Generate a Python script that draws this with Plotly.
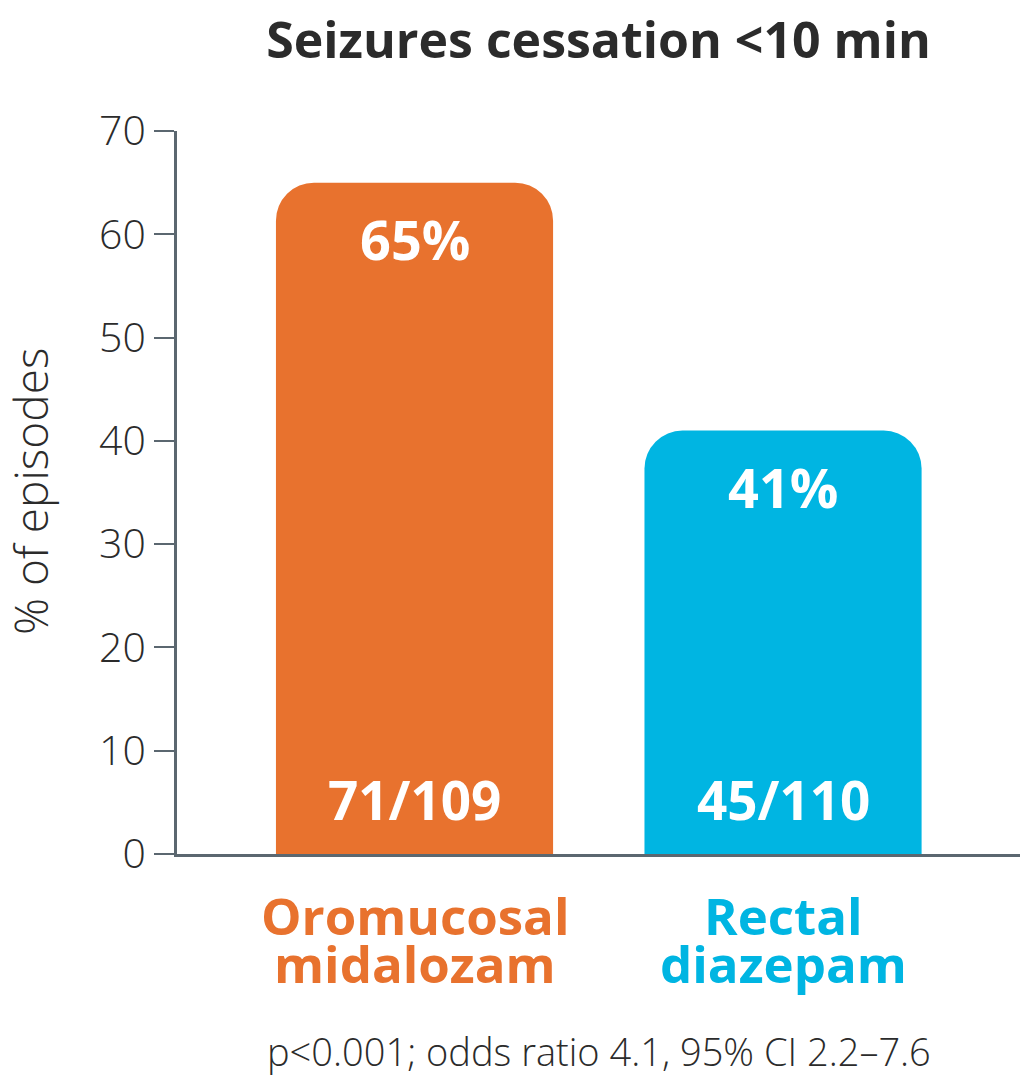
import plotly.graph_objects as go

categories_line1 = ["Oromucosal", "Rectal"]
categories_line2 = ["midalozam", "diazepam"]
values = [65, 41]
value_labels = ["65%", "41%"]
count_labels = ["71/109", "45/110"]
colors = ["#E8722E", "#00B5E2"]
y_ticks = [0, 10, 20, 30, 40, 50, 60, 70]

FONT = "Open Sans"
DARK = "#2B2B2B"
AXIS = "#5B6770"

W, H = 1022, 1076
L, R, T, B = 177, 2, 131, 222
plot_h = H - T - B
plot_w = W - L - R

xpos = list(range(len(values)))

fig = go.Figure()
fig.add_trace(go.Bar(
    x=xpos, y=values, width=0.752,
    marker=dict(color=colors, line=dict(width=0)),
    hoverinfo="skip",
))

annotations = []
for i, v in enumerate(values):
    annotations.append(dict(x=i, y=v, xref="x", yref="y", text=value_labels[i],
                            showarrow=False, yanchor="middle", yshift=-56,
                            font=dict(family=FONT, size=54, color="white", weight=700)))
    annotations.append(dict(x=i, y=0, xref="x", yref="y", text=count_labels[i],
                            showarrow=False, yanchor="middle", yshift=55,
                            font=dict(family=FONT, size=53, color="white", weight=700)))
    annotations.append(dict(x=i, y=0, xref="x", yref="y", text=categories_line1[i],
                            showarrow=False, yanchor="middle", yshift=-61,
                            font=dict(family=FONT, size=51, color=colors[i], weight=700)))
    annotations.append(dict(x=i, y=0, xref="x", yref="y", text=categories_line2[i],
                            showarrow=False, yanchor="middle", yshift=-109,
                            font=dict(family=FONT, size=51, color=colors[i], weight=700)))

annotations.append(dict(x=0.5, y=-(1051 - 854) / plot_h, xref="x domain", yref="paper",
                        text="p<0.001; odds ratio 4.1, 95% CI 2.2–7.6",
                        showarrow=False, xanchor="center", yanchor="middle",
                        font=dict(family=FONT, size=38, color=DARK, weight=300)))
annotations.append(dict(x=(30 - L) / plot_w, y=(854 - 492) / plot_h,
                        xref="paper", yref="paper", text="% of episodes", textangle=-90,
                        showarrow=False, xanchor="center", yanchor="middle",
                        font=dict(family=FONT, size=46, color=DARK, weight=300)))

fig.update_layout(
    width=W, height=H,
    margin=dict(l=L, r=R, t=T, b=B),
    paper_bgcolor="white", plot_bgcolor="white",
    barcornerradius=38,
    showlegend=False,
    title=dict(text="<b>Seizures cessation <10 min</b>", x=0.5, xref="paper",
               y=1 - 40 / H, yanchor="middle",
               font=dict(family=FONT, size=50, color=DARK)),
    xaxis=dict(range=[-0.6445, 1.643], showticklabels=False, ticks="",
               showline=True, linecolor=AXIS, linewidth=3, showgrid=False, zeroline=False,
               fixedrange=True),
    yaxis=dict(range=[0, 70], tickvals=y_ticks, ticks="outside", ticklen=20, tickwidth=2,
               tickcolor=AXIS, showline=True, linecolor=AXIS, linewidth=3,
               showgrid=False, zeroline=False,
               tickfont=dict(family=FONT, size=41, color=DARK, weight=300)),
    annotations=annotations,
)

fig.write_html("out.html", config={"displayModeBar": False},
               post_script="document.body.style.margin='0';document.body.style.padding='0';")
